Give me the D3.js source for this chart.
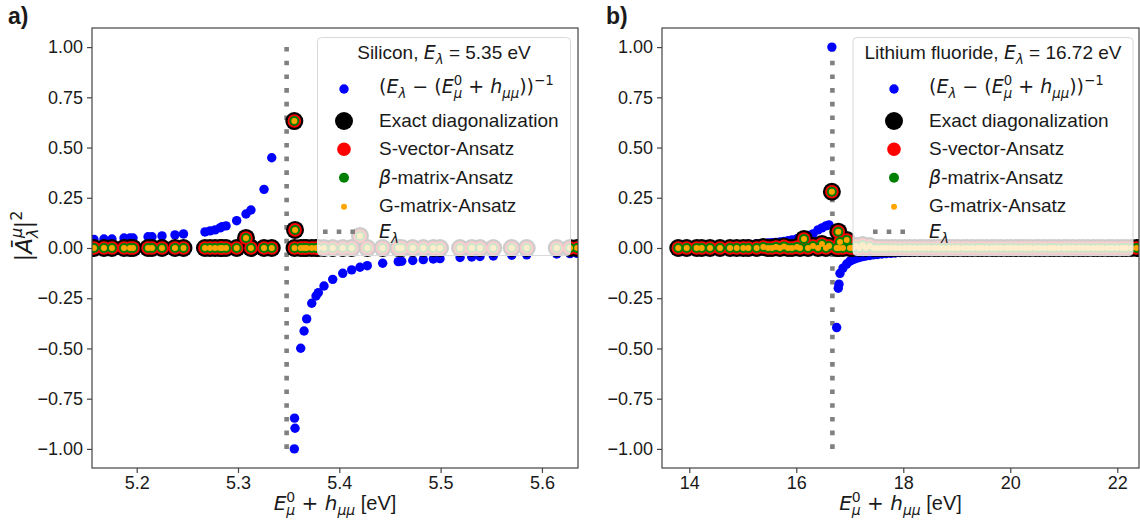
<!DOCTYPE html>
<html><head><meta charset="utf-8">
<script src="https://cdn.jsdelivr.net/npm/d3@7"></script>
<style>body{margin:0;background:#fff}svg{display:block}text{white-space:pre}</style>
</head><body>
<svg id="c" width="1140" height="525"></svg>
<script>
// ---------------- DATA ----------------
// Panel a) Silicon
const siELambda = 5.348;
const siEnergy = [
  5.1578, 5.1677, 5.1756, 5.1875, 5.1934, 5.1964, 5.2112, 5.2151, 5.2250, 5.2378,
  5.2462, 5.2674, 5.2724, 5.2774, 5.2823, 5.2842, 5.2882, 5.2987, 5.3079, 5.3128,
  5.3257, 5.3333, 5.3556, 5.3558, 5.3563, 5.3619, 5.3652, 5.3678, 5.3728, 5.3770,
  5.3793, 5.3849, 5.3935, 5.4034, 5.4122, 5.4204, 5.4276, 5.4428, 5.4582, 5.4616,
  5.4725, 5.4829, 5.4928, 5.4994, 5.5192, 5.5307, 5.5389, 5.5520, 5.5702, 5.5850,
  5.6146, 5.6277, 5.6347];
const siModel = [
  0.043, 0.045, 0.045, 0.050, 0.050, 0.050, 0.056, 0.056, 0.060, 0.065,
  0.070, 0.080, 0.085, 0.090, 0.100, 0.106, 0.110, 0.136, 0.169, 0.189,
  0.292, 0.449, -1.000, -0.847, -0.897, -0.499, -0.413, -0.353, -0.275, -0.239,
  -0.222, -0.189, -0.156, -0.126, -0.109, -0.096, -0.088, -0.076, -0.068, -0.066,
  -0.062, -0.058, -0.055, -0.053, -0.047, -0.045, -0.042, -0.040, -0.036, -0.034,
  -0.030, -0.028, -0.027];
const siExact = [
  0, 0, 0, 0, 0, 0, 0, 0, 0, 0,
  0, 0, 0, 0, 0, 0, 0, 0, 0.050, 0,
  0, 0, 0.632, 0, 0.090, 0, 0, 0, 0, 0,
  0, 0, 0, 0, 0, 0.060, 0, 0, 0, 0,
  0, 0, 0, 0, 0, 0, 0, 0, 0, 0,
  0, 0, 0];
const siSVector = siExact;
const siBeta = siExact;
const siGMatrix = siExact;

// Panel b) Lithium fluoride
const lifELambda = 16.675;
const lifEnergy = [
  13.794, 13.951, 14.138, 14.232, 14.387, 14.574, 14.761, 14.886, 15.009, 15.103,
  15.260, 15.383, 15.471, 15.546, 15.621, 15.695, 15.770, 15.845, 15.920, 16.013,
  16.069, 16.144, 16.219, 16.312, 16.406, 16.480, 16.555, 16.611, 16.665, 16.755,
  16.785, 16.798, 16.817, 16.873, 16.942, 17.004, 17.06, 17.12, 17.18, 17.24,
  17.30, 17.37, 17.44, 17.52, 17.60, 17.68, 17.77, 17.85, 17.94, 18.03,
  18.12, 18.21, 18.31, 18.39, 18.48, 18.58, 18.66, 18.75, 18.85, 18.93,
  19.02, 19.12, 19.20, 19.29, 19.39, 19.47, 19.56, 19.66, 19.74, 19.83,
  19.93, 20.01, 20.10, 20.20, 20.28, 20.37, 20.47, 20.55, 20.64, 20.74,
  20.82, 20.91, 21.01, 21.09, 21.18, 21.28, 21.36, 21.45, 21.55, 21.63,
  21.72, 21.82, 21.90, 21.99, 22.09, 22.17, 22.26, 22.36, 22.44];
const lifModel = [
  0.012, 0.012, 0.012, 0.013, 0.013, 0.014, 0.016, 0.017, 0.018, 0.019,
  0.021, 0.023, 0.025, 0.027, 0.028, 0.030, 0.033, 0.036, 0.040, 0.046,
  0.050, 0.058, 0.062, 0.070, 0.090, 0.100, 0.110, 0.115, 1.000, -0.396,
  -0.200, -0.180, -0.126, -0.100, -0.080, -0.065, -0.058, -0.052, -0.047, -0.043,
  -0.040, -0.037, -0.034, -0.032, -0.030, -0.028, -0.027, -0.025, -0.023, -0.022,
  -0.021, -0.020, -0.019, -0.018, -0.018, -0.017, -0.016, -0.016, -0.015, -0.015,
  -0.014, -0.014, -0.013, -0.013, -0.012, -0.012, -0.012, -0.011, -0.011, -0.011,
  -0.010, -0.010, -0.010, -0.010, -0.009, -0.009, -0.009, -0.009, -0.008, -0.008,
  -0.008, -0.008, -0.008, -0.007, -0.007, -0.007, -0.007, -0.007, -0.007, -0.006,
  -0.006, -0.006, -0.006, -0.006, -0.006, -0.006, -0.005, -0.005, -0.005];
const lifExact = [
  0, 0, 0, 0, 0, 0, 0, 0, 0, 0,
  0, 0.005, 0, 0, 0.005, 0, 0.008, 0, 0, 0.005,
  0, 0.045, 0, 0.010, 0, 0.020, 0, 0.010, 0.280, 0,
  0.081, 0, 0.030, 0, 0.040, 0, 0, 0.010, 0, 0.015,
  0, 0.010, 0, 0, 0, 0, 0, 0, 0, 0,
  0, 0, 0, 0, 0, 0, 0, 0, 0, 0,
  0, 0, 0, 0, 0, 0, 0, 0, 0, 0,
  0, 0, 0, 0, 0, 0, 0, 0, 0, 0,
  0, 0, 0, 0, 0, 0, 0, 0, 0, 0,
  0, 0, 0, 0, 0, 0, 0, 0, 0];
const lifSVector = lifExact;
const lifBeta = lifExact;
const lifGMatrix = lifExact;

const siXTicks = [5.2, 5.3, 5.4, 5.5, 5.6];
const lifXTicks = [14, 16, 18, 20, 22];
const yTicks = [-1, -0.75, -0.5, -0.25, 0, 0.25, 0.5, 0.75, 1];

// ---------------- DRAWING ----------------
const A = 'Liberation Sans, Arial, Helvetica, sans-serif';
const M = 'DejaVu Sans, sans-serif';
const svg = d3.select('#c');
const yTop = 28, yBot = 468;
const y = d3.scaleLinear().domain([-1.095, 1.095]).range([yBot, yTop]);
const R = {model: 4.7, exact: 9, svec: 6.8, beta: 5, gmat: 3};

function rich(g, x, yy, parts, size, anchor, rotate) {
  const t = g.append('text').attr('x', x).attr('y', yy)
    .attr('font-size', size).attr('text-anchor', anchor || 'start').attr('fill', '#1a1a1a');
  if (rotate) t.attr('transform', `rotate(${rotate},${x},${yy})`);
  let cur = 0, prev = null;
  parts.forEach(p => {
    const s = t.append('tspan').text(p.t).attr('font-family', p.f || A);
    let target = 0, fs = size;
    if (p.sub) { target = 0.24 * size; fs = 0.7 * size; }
    if (p.sup) { target = -0.42 * size; fs = 0.7 * size; }
    s.attr('font-size', fs);
    if (p.i) s.attr('font-style', 'italic');
    s.attr('dy', target - cur); cur = target;
    if (p.back && prev) s.attr('dx', -prev.getComputedTextLength());
    prev = s.node();
  });
  return t;
}

const ELam = [{t: 'E', f: M, i: 1}, {t: 'λ', f: M, i: 1, sub: 1}];
const modelLabel = [{t: '(', f: M}, ...ELam, {t: ' − (', f: M}, {t: 'E', f: M, i: 1},
  {t: '0', f: M, sup: 1}, {t: 'μ', f: M, i: 1, sub: 1, back: 1}, {t: ' + ', f: M},
  {t: 'h', f: M, i: 1}, {t: 'μμ', f: M, i: 1, sub: 1}, {t: '))', f: M}, {t: '−1', f: M, sup: 1}];
const xLabel = [{t: 'E', f: M, i: 1}, {t: '0', f: M, sup: 1}, {t: 'μ', f: M, i: 1, sub: 1, back: 1},
  {t: ' + ', f: M}, {t: 'h', f: M, i: 1}, {t: 'μμ', f: M, i: 1, sub: 1}, {t: ' [eV]', f: A}];
const yLabel = [{t: '|', f: M}, {t: 'Ā', f: M, i: 1}, {t: 'μ', f: M, i: 1, sup: 1},
  {t: 'λ', f: M, i: 1, sub: 1, back: 1}, {t: '|', f: M}, {t: '2', f: M, sup: 1}];

function drawPanel(p) {
  const x = d3.scaleLinear().domain(p.domain).range([p.left, p.right]);
  const g = svg.append('g');
  const clipId = 'clip' + p.id;
  svg.append('clipPath').attr('id', clipId).append('rect')
    .attr('x', p.left).attr('y', yTop).attr('width', p.right - p.left).attr('height', yBot - yTop);
  const plot = g.append('g').attr('clip-path', `url(#${clipId})`);
  plot.append('line').attr('x1', x(p.eLambda)).attr('x2', x(p.eLambda))
    .attr('y1', y(-1)).attr('y2', y(1)).attr('stroke', '#808080')
    .attr('stroke-width', 4.6).attr('stroke-dasharray', '4.6 9.1');
  const idx = d3.range(p.energy.length);
  plot.append('g').selectAll('circle').data(idx).join('circle')
    .attr('cx', i => x(p.energy[i])).attr('cy', i => y(p.model[i])).attr('r', R.model).attr('fill', '#0000ff');
  [[p.exact, R.exact, '#000000'], [p.svec, R.svec, '#ff0000'], [p.beta, R.beta, '#008000'], [p.gmat, R.gmat, '#ffa500']]
    .forEach(([vals, r, c]) => {
      plot.append('g').selectAll('circle').data(idx).join('circle')
        .attr('cx', i => x(p.energy[i])).attr('cy', i => y(vals[i])).attr('r', r).attr('fill', c);
    });

  // axes
  const xa = g.append('g').attr('transform', `translate(0,${yBot})`)
    .call(d3.axisBottom(x).tickValues(p.ticks).tickFormat(p.fmt).tickSize(5).tickPadding(3));
  const ya = g.append('g').attr('transform', `translate(${p.left},0)`)
    .call(d3.axisLeft(y).tickValues(yTicks).tickFormat(d3.format('.2f')).tickSize(5).tickPadding(4));
  [xa, ya].forEach(a => {
    a.select('.domain').remove();
    a.attr('font-size', 18).attr('font-family', A);
    a.selectAll('line').attr('stroke', '#444').attr('stroke-width', 1.2);
    a.selectAll('text').attr('fill', '#1a1a1a');
  });
  g.append('rect').attr('x', p.left).attr('y', yTop).attr('width', p.right - p.left)
    .attr('height', yBot - yTop).attr('fill', 'none').attr('stroke', '#444').attr('stroke-width', 1.2);

  rich(g, (p.left + p.right) / 2, 510, xLabel, 20, 'middle');

  // legend
  const L = p.legend;
  const lg = g.append('g');
  lg.append('rect').attr('x', L.x).attr('y', 37.5).attr('width', L.w).attr('height', 218)
    .attr('rx', 4).attr('fill', '#fff').attr('fill-opacity', 0.8).attr('stroke', '#d9d9d9');
  rich(lg, L.x + L.w / 2, 59.3, p.title, 19, 'middle');
  const hx = L.hx, mx = hx + 21, tx = hx + 56;
  lg.append('circle').attr('cx', mx).attr('cy', 89).attr('r', R.model).attr('fill', '#0000ff');
  rich(lg, tx, 93.3, modelLabel, 19);
  lg.append('circle').attr('cx', mx).attr('cy', 121).attr('r', R.exact).attr('fill', '#000');
  rich(lg, tx, 126.7, [{t: 'Exact diagonalization'}], 19);
  lg.append('circle').attr('cx', mx).attr('cy', 149.3).attr('r', R.svec).attr('fill', '#ff0000');
  rich(lg, tx, 155, [{t: 'S-vector-Ansatz'}], 19);
  lg.append('circle').attr('cx', mx).attr('cy', 177.7).attr('r', R.beta).attr('fill', '#008000');
  rich(lg, tx, 183.5, [{t: 'β', f: M, i: 1}, {t: '-matrix-Ansatz'}], 19);
  lg.append('circle').attr('cx', mx).attr('cy', 206.7).attr('r', R.gmat).attr('fill', '#ffa500');
  rich(lg, tx, 211.7, [{t: 'G-matrix-Ansatz'}], 19);
  lg.append('line').attr('x1', hx).attr('x2', hx + 34).attr('y1', 231.7).attr('y2', 231.7)
    .attr('stroke', '#808080').attr('stroke-width', 4.6).attr('stroke-dasharray', '4.6 9.1');
  rich(lg, tx, 238.3, ELam, 19);

  g.append('text').attr('x', p.letterX).attr('y', 24).attr('font-size', 23).attr('font-weight', 'bold')
    .attr('font-family', A).attr('fill', '#1a1a1a').text(p.letter);
}

drawPanel({
  id: 'a', left: 92, right: 578, domain: [5.1559, 5.6356], ticks: siXTicks, fmt: d3.format('.1f'),
  energy: siEnergy, model: siModel, exact: siExact, svec: siSVector, beta: siBeta, gmat: siGMatrix,
  eLambda: siELambda, legend: {x: 317.5, w: 253, hx: 323},
  title: [{t: 'Silicon, '}, ...ELam, {t: ' = 5.35 eV'}], letter: 'a)', letterX: 8
});
drawPanel({
  id: 'b', left: 662, right: 1139, domain: [13.49, 22.406], ticks: lifXTicks, fmt: d3.format('d'),
  energy: lifEnergy, model: lifModel, exact: lifExact, svec: lifSVector, beta: lifBeta, gmat: lifGMatrix,
  eLambda: lifELambda, legend: {x: 853, w: 280, hx: 873},
  title: [{t: 'Lithium fluoride, '}, ...ELam, {t: ' = 16.72 eV'}], letter: 'b)', letterX: 606
});

rich(svg, 32, 236, yLabel, 23, 'middle', -90);
</script>
</body></html>
